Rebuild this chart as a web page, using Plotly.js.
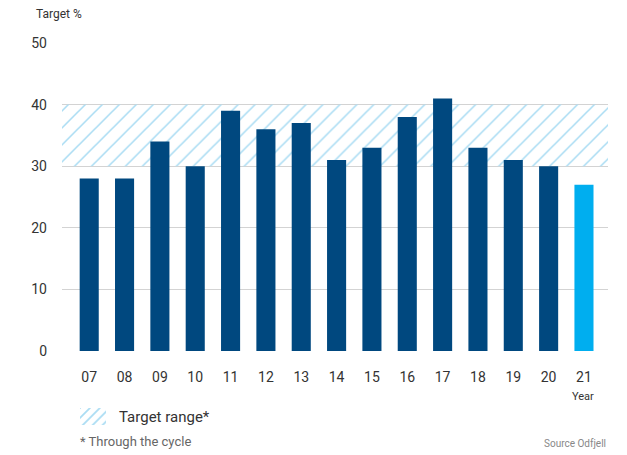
<!DOCTYPE html>
<html>
<head>
<meta charset="utf-8">
<script src="https://cdn.plot.ly/plotly-3.0.1.min.js"></script>
<style>html,body{margin:0;padding:0;background:#fff}#chart{width:627px;height:455px}</style>
</head>
<body>
<div id="chart"></div>
<script>
const years = ["07","08","09","10","11","12","13","14","15","16","17","18","19","20","21"];
const values = [28,28,34,30,39,36,37,31,33,38,41,33,31,30,27];
const targetLow = 30;
const targetHigh = 40;
const yTicks = [0,10,20,30,40,50];

const darkBlue = "#00487f";
const lightBlue = "#00aeef";
const hatchColor = "#a9dcf3";
const xRange = [-0.77, 14.68];
const idx = years.map((_, i) => i);

// geometry helpers (pixels -> paper)
const W = 627, H = 455, mL = 62, mR = 19, mT = 43, mB = 30;
const pw = W - mL - mR, ph = H - mT - mB;
const px = x => (x - mL) / pw;
const py = y => (H - mB - y) / ph;

const hatch = {
  type: "bar",
  x: [(xRange[0] + xRange[1]) / 2],
  y: [targetHigh - targetLow],
  base: [targetLow],
  width: [xRange[1] - xRange[0]],
  showlegend: false,
  hoverinfo: "skip",
  marker: {
    color: "rgba(0,0,0,0)",
    line: {width: 0},
    pattern: {shape: "/", fgcolor: hatchColor, bgcolor: "rgba(0,0,0,0)", size: 12, solidity: 0.13}
  }
};

const bars = {
  type: "bar",
  x: idx,
  y: values,
  width: 0.54,
  showlegend: false,
  marker: {color: years.map((_, i) => i === years.length - 1 ? lightBlue : darkBlue), line: {width: 0}}
};

// legend swatch drawn in its own tiny subplot
const swatch = {
  type: "bar",
  x: [0], y: [1], width: [1],
  xaxis: "x2", yaxis: "y2",
  showlegend: false, hoverinfo: "skip",
  marker: {
    color: "rgba(0,0,0,0)", line: {width: 0},
    pattern: {shape: "/", fgcolor: hatchColor, bgcolor: "rgba(0,0,0,0)", size: 7, solidity: 0.25}
  }
};

const layout = {
  width: W, height: H,
  margin: {l: mL, r: mR, t: mT, b: mB},
  paper_bgcolor: "#fff", plot_bgcolor: "#fff",
  barmode: "overlay",
  showlegend: false,
  font: {family: "Roboto, sans-serif", color: "#333", size: 14},
  xaxis: {
    range: xRange, tickvals: idx, ticktext: years, anchor: "y",
    showgrid: false, zeroline: false, showline: false, ticks: "",
    ticklabelstandoff: 16,
    tickfont: {size: 14, color: "#333"}
  },
  yaxis: {
    domain: [py(351), 1],
    range: [0, 50], tickvals: yTicks, showgrid: true, gridcolor: "#d3d3d3", gridwidth: 1,
    zeroline: false, showline: false, ticks: "", ticklabelstandoff: 14,
    tickfont: {size: 14, color: "#333"}
  },
  xaxis2: {domain: [px(80), px(106)], range: [-0.5, 0.5], visible: false, anchor: "y2"},
  yaxis2: {domain: [py(425), py(408)], range: [0, 1], visible: false, anchor: "x2"},
  annotations: [
    {text: "Target %", xref: "paper", yref: "paper", x: px(34), y: py(14), xanchor: "left", yanchor: "middle", showarrow: false, font: {size: 12, color: "#333"}},
    {text: "Year", xref: "paper", yref: "paper", x: px(583), y: py(396), xanchor: "center", yanchor: "middle", showarrow: false, font: {size: 11, color: "#333"}},
    {text: "Target range*", xref: "paper", yref: "paper", x: px(117), y: py(417), xanchor: "left", yanchor: "middle", showarrow: false, font: {size: 15, color: "#333"}},
    {text: "* Through the cycle", xref: "paper", yref: "paper", x: px(78), y: py(442), xanchor: "left", yanchor: "middle", showarrow: false, font: {size: 13, color: "#666"}},
    {text: "Source Odfjell", xref: "paper", yref: "paper", x: 1, y: py(443), xanchor: "right", yanchor: "middle", showarrow: false, font: {size: 10, color: "#888"}}
  ]
};

Plotly.newPlot("chart", [hatch, bars, swatch], layout, {displayModeBar: false, staticPlot: true});
</script>
</body>
</html>
